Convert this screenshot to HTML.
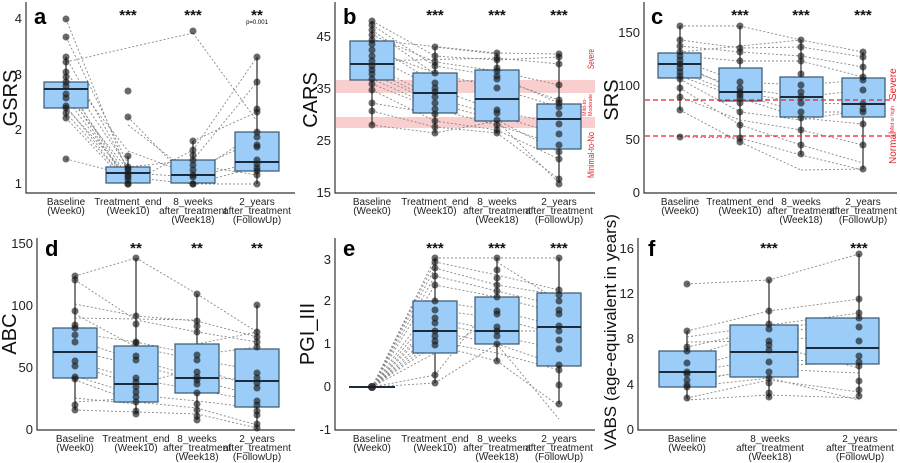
<!DOCTYPE html>
<html><head><meta charset="utf-8"><style>
html,body{margin:0;padding:0;background:#fff;}
svg{display:block;font-family:"Liberation Sans",sans-serif;}
.ax{stroke:#333;stroke-width:1.2;fill:none}
.tk{font-size:13px;fill:#222;text-anchor:end}
.xl{font-size:10px;fill:#222;text-anchor:middle}
.yl{font-size:20px;fill:#111;text-anchor:middle}
.pl{font-size:22px;font-weight:bold;fill:#000}
.st{font-size:15px;font-weight:bold;fill:#111;text-anchor:middle}
.bx{fill:#9bcdf8;stroke:#3a5670;stroke-width:1.2}
.md{stroke:#1c2c3a;stroke-width:2}
.wh{stroke:#555;stroke-width:1.5}
.ln{stroke:#888;stroke-width:0.9;stroke-dasharray:2,2;fill:none}
.d circle{fill:#1a1a1a;fill-opacity:.65}
.red{fill:#e8222b;font-size:9px}
</style></head><body>
<svg width="900" height="463" viewBox="0 0 900 463">
<!-- ===== Panel a ===== -->
<g>
<path class="ax" d="M26,2V193H295"/>
<text class="tk" x="22" y="23">4</text><text class="tk" x="22" y="79">3</text><text class="tk" x="22" y="134">2</text><text class="tk" x="22" y="188">1</text>
<text class="yl" transform="translate(17,98) rotate(-90)">GSRS</text>
<text class="pl" x="34" y="24">a</text>
<text class="st" x="128" y="20">***</text><text class="st" x="193" y="20">***</text><text class="st" x="257" y="20">**</text>
<text x="257" y="24" style="font-size:6px;text-anchor:middle">p=0.001</text>
<path class="ln" d="M66,19L128,173M66,37L128,164M66,57L128,169M66,62L193,33M66,72L128,151M66,77L128,167M66,82L128,184M66,86L128,177M66,89L128,184M66,94L128,170M66,98L128,180M66,106L128,183M66,108L128,175M66,113L128,182M66,118L128,184M66,159L128,175
M128,151L193,175M128,125L193,175M128,117L193,184M128,167L193,160M128,173L193,177M128,184L193,150M128,177L193,184
M193,33L257,121M193,150L257,57M193,160L257,82M193,175L257,132M193,184L257,167M193,177L257,162M193,141L257,112M193,184L257,184M193,170L257,140M193,165L257,175"/>
<line class="wh" x1="66" y1="57" x2="66" y2="118"/><rect class="bx" x="44" y="82" width="44" height="26"/><line class="md" x1="44" y1="89" x2="88" y2="89"/>
<line class="wh" x1="128" y1="156" x2="128" y2="184"/><rect class="bx" x="106" y="167" width="44" height="16"/><line class="md" x1="106" y1="173" x2="150" y2="173"/>
<line class="wh" x1="193" y1="141" x2="193" y2="184"/><rect class="bx" x="171" y="160" width="44" height="23"/><line class="md" x1="171" y1="175" x2="215" y2="175"/>
<line class="wh" x1="257" y1="57" x2="257" y2="184"/><rect class="bx" x="235" y="132" width="44" height="39"/><line class="md" x1="235" y1="162" x2="279" y2="162"/>
<g class="d">
<circle cx="66" cy="19" r="3.5"/><circle cx="66" cy="37" r="3.5"/><circle cx="66" cy="57" r="3.5"/><circle cx="66" cy="62" r="3.5"/><circle cx="66" cy="72" r="3.5"/><circle cx="66" cy="77" r="3.5"/><circle cx="66" cy="82" r="3.5"/><circle cx="66" cy="86" r="3.5"/><circle cx="66" cy="94" r="3.5"/><circle cx="66" cy="98" r="3.5"/><circle cx="66" cy="106" r="3.5"/><circle cx="66" cy="108" r="3.5"/><circle cx="66" cy="113" r="3.5"/><circle cx="66" cy="118" r="3.5"/><circle cx="66" cy="159" r="3.5"/>
<circle cx="128" cy="91" r="3.5"/><circle cx="128" cy="117" r="3.5"/><circle cx="128" cy="156" r="3.5"/><circle cx="128" cy="167" r="3.5"/><circle cx="128" cy="169" r="3.5"/><circle cx="128" cy="172" r="3.5"/><circle cx="128" cy="175" r="3.5"/><circle cx="128" cy="177" r="3.5"/><circle cx="128" cy="180" r="3.5"/><circle cx="128" cy="184" r="3.5"/><circle cx="128" cy="184" r="3.5"/>
<circle cx="193" cy="31" r="3.5"/><circle cx="193" cy="141" r="3.5"/><circle cx="193" cy="150" r="3.5"/><circle cx="193" cy="155" r="3.5"/><circle cx="193" cy="160" r="3.5"/><circle cx="193" cy="165" r="3.5"/><circle cx="193" cy="170" r="3.5"/><circle cx="193" cy="175" r="3.5"/><circle cx="193" cy="177" r="3.5"/><circle cx="193" cy="184" r="3.5"/><circle cx="193" cy="184" r="3.5"/>
<circle cx="257" cy="57" r="3.5"/><circle cx="257" cy="82" r="3.5"/><circle cx="257" cy="109" r="3.5"/><circle cx="257" cy="112" r="3.5"/><circle cx="257" cy="132" r="3.5"/><circle cx="257" cy="137" r="3.5"/><circle cx="257" cy="145" r="3.5"/><circle cx="257" cy="147" r="3.5"/><circle cx="257" cy="160" r="3.5"/><circle cx="257" cy="164" r="3.5"/><circle cx="257" cy="168" r="3.5"/><circle cx="257" cy="171" r="3.5"/><circle cx="257" cy="175" r="3.5"/><circle cx="257" cy="184" r="3.5"/>
</g>
<text class="xl" x="66" y="205">Baseline</text><text class="xl" x="66" y="214">(Week0)</text>
<text class="xl" x="128" y="205">Treatment_end</text><text class="xl" x="128" y="214">(Week10)</text>
<text class="xl" x="193" y="205">8_weeks</text><text class="xl" x="193" y="214">after_treatment</text><text class="xl" x="193" y="223">(Week18)</text>
<text class="xl" x="257" y="205">2_years</text><text class="xl" x="257" y="214">after_treatment</text><text class="xl" x="257" y="223">(FollowUp)</text>
</g>

<!-- ===== Panel b ===== -->
<g>
<rect x="336" y="80" width="259" height="13" fill="#f7b9bb" fill-opacity=".7"/>
<rect x="336" y="117" width="259" height="11" fill="#f7b9bb" fill-opacity=".7"/>
<path class="ax" d="M335,2V193H595"/>
<text class="tk" x="331" y="41">45</text><text class="tk" x="331" y="93">35</text><text class="tk" x="331" y="145">25</text><text class="tk" x="331" y="197">15</text>
<text class="yl" transform="translate(317,100) rotate(-90)">CARS</text>
<text class="pl" x="343" y="24">b</text>
<text class="st" x="435" y="20">***</text><text class="st" x="497" y="20">***</text><text class="st" x="559" y="20">***</text>
<path class="ln" d="M372,21L435,56M372,25L435,66M372,30L435,74M372,35L435,62M372,40L497,53M372,44L435,83M372,50L435,73M372,56L435,88M372,61L497,58M372,66L435,97M372,70L435,101M372,74L435,103M372,79L435,107M372,84L435,109M372,90L435,121M372,103L435,114M372,111L435,127M372,125L435,133
M435,47L497,54M435,56L497,60M435,62L497,71M435,66L497,76M435,73L497,88M435,83L497,79M435,88L497,111M435,97L497,116M435,103L497,120M435,109L497,125M435,121L497,130M435,127L497,133M435,133L497,121
M497,53L559,54M497,58L559,64M497,60L559,57M497,71L559,85M497,76L559,103M497,79L559,100M497,88L559,107M497,111L559,124M497,116L559,134M497,120L559,152M497,125L559,145M497,130L559,159M497,133L559,179M497,121L559,183"/>
<line class="wh" x1="372" y1="21" x2="372" y2="125"/><rect class="bx" x="350" y="41" width="44" height="39"/><line class="md" x1="350" y1="64" x2="394" y2="64"/>
<line class="wh" x1="435" y1="47" x2="435" y2="133"/><rect class="bx" x="413" y="73" width="44" height="40"/><line class="md" x1="413" y1="93" x2="457" y2="93"/>
<line class="wh" x1="497" y1="53" x2="497" y2="133"/><rect class="bx" x="475" y="70" width="44" height="51"/><line class="md" x1="475" y1="99" x2="519" y2="99"/>
<line class="wh" x1="559" y1="54" x2="559" y2="183"/><rect class="bx" x="537" y="104" width="44" height="45"/><line class="md" x1="537" y1="119" x2="581" y2="119"/>
<g class="d">
<circle cx="372" cy="21" r="3.5"/><circle cx="372" cy="25" r="3.5"/><circle cx="372" cy="30" r="3.5"/><circle cx="372" cy="35" r="3.5"/><circle cx="372" cy="40" r="3.5"/><circle cx="372" cy="44" r="3.5"/><circle cx="372" cy="50" r="3.5"/><circle cx="372" cy="56" r="3.5"/><circle cx="372" cy="61" r="3.5"/><circle cx="372" cy="66" r="3.5"/><circle cx="372" cy="70" r="3.5"/><circle cx="372" cy="74" r="3.5"/><circle cx="372" cy="79" r="3.5"/><circle cx="372" cy="84" r="3.5"/><circle cx="372" cy="90" r="3.5"/><circle cx="372" cy="103" r="3.5"/><circle cx="372" cy="111" r="3.5"/><circle cx="372" cy="125" r="3.5"/>
<circle cx="435" cy="47" r="3.5"/><circle cx="435" cy="56" r="3.5"/><circle cx="435" cy="62" r="3.5"/><circle cx="435" cy="66" r="3.5"/><circle cx="435" cy="73" r="3.5"/><circle cx="435" cy="83" r="3.5"/><circle cx="435" cy="88" r="3.5"/><circle cx="435" cy="92" r="3.5"/><circle cx="435" cy="97" r="3.5"/><circle cx="435" cy="103" r="3.5"/><circle cx="435" cy="109" r="3.5"/><circle cx="435" cy="114" r="3.5"/><circle cx="435" cy="121" r="3.5"/><circle cx="435" cy="127" r="3.5"/><circle cx="435" cy="133" r="3.5"/>
<circle cx="497" cy="53" r="3.5"/><circle cx="497" cy="58" r="3.5"/><circle cx="497" cy="60" r="3.5"/><circle cx="497" cy="68" r="3.5"/><circle cx="497" cy="71" r="3.5"/><circle cx="497" cy="76" r="3.5"/><circle cx="497" cy="79" r="3.5"/><circle cx="497" cy="88" r="3.5"/><circle cx="497" cy="110" r="3.5"/><circle cx="497" cy="113" r="3.5"/><circle cx="497" cy="120" r="3.5"/><circle cx="497" cy="125" r="3.5"/><circle cx="497" cy="130" r="3.5"/><circle cx="497" cy="133" r="3.5"/>
<circle cx="559" cy="54" r="3.5"/><circle cx="559" cy="57" r="3.5"/><circle cx="559" cy="64" r="3.5"/><circle cx="559" cy="85" r="3.5"/><circle cx="559" cy="100" r="3.5"/><circle cx="559" cy="103" r="3.5"/><circle cx="559" cy="107" r="3.5"/><circle cx="559" cy="114" r="3.5"/><circle cx="559" cy="124" r="3.5"/><circle cx="559" cy="134" r="3.5"/><circle cx="559" cy="145" r="3.5"/><circle cx="559" cy="152" r="3.5"/><circle cx="559" cy="159" r="3.5"/><circle cx="559" cy="179" r="3.5"/><circle cx="559" cy="184" r="3.5"/>
</g>
<text class="red" style="font-size:9px" transform="translate(594,69) rotate(-90)" textLength="20" lengthAdjust="spacingAndGlyphs">Severe</text>
<text class="red" style="font-size:5.5px" transform="translate(586,116) rotate(-90)" textLength="18" lengthAdjust="spacingAndGlyphs">Mild-to-</text>
<text class="red" style="font-size:5.5px" transform="translate(592,116) rotate(-90)" textLength="22" lengthAdjust="spacingAndGlyphs">Moderate</text>
<text class="red" style="font-size:9px" transform="translate(594,178) rotate(-90)" textLength="46" lengthAdjust="spacingAndGlyphs">Minimal-to-No</text>
<text class="xl" x="372" y="205">Baseline</text><text class="xl" x="372" y="214">(Week0)</text>
<text class="xl" x="435" y="205">Treatment_end</text><text class="xl" x="435" y="214">(Week10)</text>
<text class="xl" x="497" y="205">8_weeks</text><text class="xl" x="497" y="214">after_treatment</text><text class="xl" x="497" y="223">(Week18)</text>
<text class="xl" x="559" y="205">2_years</text><text class="xl" x="559" y="214">after_treatment</text><text class="xl" x="559" y="223">(FollowUp)</text>
</g>

<!-- ===== Panel c ===== -->
<g>
<path class="ax" d="M644,2V193H897"/>
<text class="tk" x="640" y="37">150</text><text class="tk" x="640" y="90">100</text><text class="tk" x="640" y="144">50</text><text class="tk" x="640" y="197">0</text>
<text class="yl" transform="translate(618,100) rotate(-90)">SRS</text>
<text class="pl" x="651" y="24">c</text>
<text class="st" x="740" y="20">***</text><text class="st" x="801" y="20">***</text><text class="st" x="863" y="20">***</text>
<path class="ln" d="M680,26L740,26M680,40L740,48M680,46L740,52M680,52L801,40M680,56L740,61M680,60L740,82M680,64L740,92M680,68L740,88M680,72L740,95M680,76L740,98M680,79L740,112M680,88L740,125M680,97L740,120M680,110L740,142M680,137L740,138
M740,26L801,40M740,48L801,47M740,52L801,56M740,61L801,61M740,82L801,85M740,88L801,97M740,92L801,103M740,95L801,112M740,98L801,118M740,112L801,120M740,120L801,130M740,125L801,145M740,138L801,155M740,142L801,170
M801,40L863,52M801,47L863,57M801,56L863,67M801,61L863,77M801,85L863,80M801,97L863,90M801,103L863,104M801,112L863,112M801,118L863,124M801,120L863,110M801,130L863,145M801,145L863,163M801,155L863,170M801,170L863,169"/>
<line class="wh" x1="680" y1="26" x2="680" y2="110"/><rect class="bx" x="658" y="53" width="43" height="25"/><line class="md" x1="658" y1="64" x2="701" y2="64"/>
<line class="wh" x1="740" y1="26" x2="740" y2="142"/><rect class="bx" x="719" y="68" width="43" height="33"/><line class="md" x1="719" y1="92" x2="762" y2="92"/>
<line class="wh" x1="801" y1="40" x2="801" y2="155"/><rect class="bx" x="780" y="77" width="43" height="40"/><line class="md" x1="780" y1="97" x2="823" y2="97"/>
<line class="wh" x1="863" y1="52" x2="863" y2="169"/><rect class="bx" x="842" y="78" width="43" height="39"/><line class="md" x1="842" y1="104" x2="885" y2="104"/>
<line x1="645" y1="100" x2="895" y2="100" stroke="#e8222b" stroke-width="1.3" stroke-dasharray="5,3"/>
<line x1="645" y1="136" x2="895" y2="136" stroke="#e8222b" stroke-width="1.3" stroke-dasharray="5,3"/>
<g class="d">
<circle cx="680" cy="26" r="3.5"/><circle cx="680" cy="40" r="3.5"/><circle cx="680" cy="46" r="3.5"/><circle cx="680" cy="52" r="3.5"/><circle cx="680" cy="56" r="3.5"/><circle cx="680" cy="60" r="3.5"/><circle cx="680" cy="64" r="3.5"/><circle cx="680" cy="68" r="3.5"/><circle cx="680" cy="72" r="3.5"/><circle cx="680" cy="76" r="3.5"/><circle cx="680" cy="79" r="3.5"/><circle cx="680" cy="88" r="3.5"/><circle cx="680" cy="97" r="3.5"/><circle cx="680" cy="110" r="3.5"/><circle cx="680" cy="137" r="3.5"/>
<circle cx="740" cy="26" r="3.5"/><circle cx="740" cy="48" r="3.5"/><circle cx="740" cy="52" r="3.5"/><circle cx="740" cy="61" r="3.5"/><circle cx="740" cy="82" r="3.5"/><circle cx="740" cy="88" r="3.5"/><circle cx="740" cy="92" r="3.5"/><circle cx="740" cy="95" r="3.5"/><circle cx="740" cy="98" r="3.5"/><circle cx="740" cy="103" r="3.5"/><circle cx="740" cy="112" r="3.5"/><circle cx="740" cy="125" r="3.5"/><circle cx="740" cy="138" r="3.5"/><circle cx="740" cy="142" r="3.5"/>
<circle cx="801" cy="40" r="3.5"/><circle cx="801" cy="47" r="3.5"/><circle cx="801" cy="56" r="3.5"/><circle cx="801" cy="61" r="3.5"/><circle cx="801" cy="74" r="3.5"/><circle cx="801" cy="85" r="3.5"/><circle cx="801" cy="92" r="3.5"/><circle cx="801" cy="97" r="3.5"/><circle cx="801" cy="103" r="3.5"/><circle cx="801" cy="112" r="3.5"/><circle cx="801" cy="118" r="3.5"/><circle cx="801" cy="130" r="3.5"/><circle cx="801" cy="145" r="3.5"/><circle cx="801" cy="154" r="3.5"/>
<circle cx="863" cy="52" r="3.5"/><circle cx="863" cy="57" r="3.5"/><circle cx="863" cy="67" r="3.5"/><circle cx="863" cy="77" r="3.5"/><circle cx="863" cy="80" r="3.5"/><circle cx="863" cy="90" r="3.5"/><circle cx="863" cy="104" r="3.5"/><circle cx="863" cy="109" r="3.5"/><circle cx="863" cy="112" r="3.5"/><circle cx="863" cy="124" r="3.5"/><circle cx="863" cy="145" r="3.5"/><circle cx="863" cy="169" r="3.5"/>
</g>
<text class="red" style="font-size:10px" transform="translate(896,164) rotate(-90)">Normal</text>
<text class="red" style="font-size:5px" transform="translate(894,132) rotate(-90)">Mild or high</text>
<text class="red" style="font-size:10px" transform="translate(896,100) rotate(-90)">Severe</text>
<text class="xl" x="680" y="205">Baseline</text><text class="xl" x="680" y="214">(Week0)</text>
<text class="xl" x="740" y="205">Treatment_end</text><text class="xl" x="740" y="214">(Week10)</text>
<text class="xl" x="801" y="205">8_weeks</text><text class="xl" x="801" y="214">after_treatment</text><text class="xl" x="801" y="223">(Week18)</text>
<text class="xl" x="863" y="205">2_years</text><text class="xl" x="863" y="214">after_treatment</text><text class="xl" x="863" y="223">(FollowUp)</text>
</g>

<!-- ===== Panel d ===== -->
<g>
<path class="ax" d="M37,238V430H295"/>
<text class="tk" x="33" y="248">150</text><text class="tk" x="33" y="310">100</text><text class="tk" x="33" y="372">50</text><text class="tk" x="33" y="434">0</text>
<text class="yl" transform="translate(16,334) rotate(-90)">ABC</text>
<text class="pl" x="45" y="256">d</text>
<text class="st" x="136" y="253">**</text><text class="st" x="197" y="253">**</text><text class="st" x="257" y="253">**</text>
<path class="ln" d="M75,276L136,258M75,280L136,320M75,304L136,316M75,314L136,347M75,318L197,320M75,333L136,342M75,340L136,360M75,351L136,365M75,362L136,379M75,365L136,385M75,376L136,395M75,380L136,402M75,398L136,404M75,410L136,412M75,402L136,398
M136,258L197,294M136,316L197,321M136,320L197,332M136,342L197,355M136,347L197,360M136,360L197,377M136,365L197,380M136,379L197,390M136,385L197,368M136,395L197,401M136,402L197,408M136,412L197,414
M197,294L257,332M197,321L257,337M197,332L257,342M197,355L257,347M197,360L257,370M197,368L257,388M197,377L257,380M197,380L257,396M197,390L257,401M197,401L257,408M197,408L257,425M197,414L257,428M197,344L257,332"/>
<line class="wh" x1="75" y1="276" x2="75" y2="410"/><rect class="bx" x="53" y="328" width="44" height="50"/><line class="md" x1="53" y1="352" x2="97" y2="352"/>
<line class="wh" x1="136" y1="258" x2="136" y2="413"/><rect class="bx" x="114" y="346" width="44" height="56"/><line class="md" x1="114" y1="384" x2="158" y2="384"/>
<line class="wh" x1="197" y1="294" x2="197" y2="420"/><rect class="bx" x="175" y="344" width="44" height="49"/><line class="md" x1="175" y1="378" x2="219" y2="378"/>
<line class="wh" x1="257" y1="305" x2="257" y2="429"/><rect class="bx" x="235" y="349" width="44" height="58"/><line class="md" x1="235" y1="381" x2="279" y2="381"/>
<g class="d">
<circle cx="75" cy="276" r="3.5"/><circle cx="75" cy="280" r="3.5"/><circle cx="75" cy="311" r="3.5"/><circle cx="75" cy="325" r="3.5"/><circle cx="75" cy="328" r="3.5"/><circle cx="75" cy="335" r="3.5"/><circle cx="75" cy="342" r="3.5"/><circle cx="75" cy="361" r="3.5"/><circle cx="75" cy="366" r="3.5"/><circle cx="75" cy="377" r="3.5"/><circle cx="75" cy="379" r="3.5"/><circle cx="75" cy="405" r="3.5"/><circle cx="75" cy="410" r="3.5"/>
<circle cx="136" cy="258" r="3.5"/><circle cx="136" cy="316" r="3.5"/><circle cx="136" cy="324" r="3.5"/><circle cx="136" cy="342" r="3.5"/><circle cx="136" cy="343" r="3.5"/><circle cx="136" cy="356" r="3.5"/><circle cx="136" cy="360" r="3.5"/><circle cx="136" cy="378" r="3.5"/><circle cx="136" cy="382" r="3.5"/><circle cx="136" cy="387" r="3.5"/><circle cx="136" cy="392" r="3.5"/><circle cx="136" cy="397" r="3.5"/><circle cx="136" cy="402" r="3.5"/><circle cx="136" cy="411" r="3.5"/><circle cx="136" cy="414" r="3.5"/>
<circle cx="197" cy="294" r="3.5"/><circle cx="197" cy="321" r="3.5"/><circle cx="197" cy="326" r="3.5"/><circle cx="197" cy="332" r="3.5"/><circle cx="197" cy="355" r="3.5"/><circle cx="197" cy="360" r="3.5"/><circle cx="197" cy="372" r="3.5"/><circle cx="197" cy="377" r="3.5"/><circle cx="197" cy="380" r="3.5"/><circle cx="197" cy="384" r="3.5"/><circle cx="197" cy="393" r="3.5"/><circle cx="197" cy="404" r="3.5"/><circle cx="197" cy="410" r="3.5"/><circle cx="197" cy="416" r="3.5"/><circle cx="197" cy="420" r="3.5"/>
<circle cx="257" cy="305" r="3.5"/><circle cx="257" cy="332" r="3.5"/><circle cx="257" cy="337" r="3.5"/><circle cx="257" cy="342" r="3.5"/><circle cx="257" cy="347" r="3.5"/><circle cx="257" cy="373" r="3.5"/><circle cx="257" cy="378" r="3.5"/><circle cx="257" cy="383" r="3.5"/><circle cx="257" cy="388" r="3.5"/><circle cx="257" cy="401" r="3.5"/><circle cx="257" cy="405" r="3.5"/><circle cx="257" cy="411" r="3.5"/><circle cx="257" cy="415" r="3.5"/><circle cx="257" cy="424" r="3.5"/><circle cx="257" cy="428" r="3.5"/>
</g>
<text class="xl" x="75" y="442">Baseline</text><text class="xl" x="75" y="451">(Week0)</text>
<text class="xl" x="136" y="442">Treatment_end</text><text class="xl" x="136" y="451">(Week10)</text>
<text class="xl" x="197" y="442">8_weeks</text><text class="xl" x="197" y="451">after_treatment</text><text class="xl" x="197" y="460">(Week18)</text>
<text class="xl" x="257" y="442">2_years</text><text class="xl" x="257" y="451">after_treatment</text><text class="xl" x="257" y="460">(FollowUp)</text>
</g>

<!-- ===== Panel e ===== -->
<g>
<path class="ax" d="M335,238V430H595"/>
<text class="tk" x="331" y="264">3</text><text class="tk" x="331" y="305">2</text><text class="tk" x="331" y="348">1</text><text class="tk" x="331" y="391">0</text><text class="tk" x="331" y="434">-1</text>
<text class="yl" transform="translate(314,334) rotate(-90)">PGI_III</text>
<text class="pl" x="343" y="256">e</text>
<text class="st" x="435" y="253">***</text><text class="st" x="497" y="253">***</text><text class="st" x="559" y="253">***</text>
<path class="ln" d="M372,387L435,258M372,387L435,262M372,387L435,268M372,387L435,276M372,387L435,285M372,387L435,301M372,387L435,310M372,387L435,318M372,387L435,323M372,387L435,331M372,387L435,336M372,387L435,341M372,387L435,345M372,387L435,353M372,387L435,375M372,387L435,383
M435,258L497,258M435,262L497,275M435,268L497,285M435,276L497,291M435,285L497,297M435,301L497,311M435,310L497,318M435,318L497,331M435,323L497,336M435,331L497,344M435,341L497,353M435,345L497,361M435,353L497,318M435,375L497,297M435,383L497,344
M497,258L559,258M497,275L559,290M497,285L559,295M497,291L559,306M497,297L559,313M497,311L559,326M497,318L559,335M497,331L559,331M497,336L559,349M497,344L559,365M497,353L559,370M497,361L559,406M497,262L559,301M497,344L559,419"/>
<line x1="349" y1="387" x2="395" y2="387" stroke="#1c2c3a" stroke-width="2"/>
<line class="wh" x1="435" y1="258" x2="435" y2="383"/><rect class="bx" x="413" y="301" width="44" height="52"/><line class="md" x1="413" y1="331" x2="457" y2="331"/>
<line class="wh" x1="497" y1="258" x2="497" y2="361"/><rect class="bx" x="475" y="297" width="44" height="47"/><line class="md" x1="475" y1="331" x2="519" y2="331"/>
<line class="wh" x1="559" y1="258" x2="559" y2="404"/><rect class="bx" x="537" y="293" width="44" height="73"/><line class="md" x1="537" y1="327" x2="581" y2="327"/>
<g class="d">
<circle cx="372" cy="387" r="4"/><circle cx="372" cy="387" r="4"/>
<circle cx="435" cy="258" r="3.5"/><circle cx="435" cy="262" r="3.5"/><circle cx="435" cy="268" r="3.5"/><circle cx="435" cy="276" r="3.5"/><circle cx="435" cy="285" r="3.5"/><circle cx="435" cy="301" r="3.5"/><circle cx="435" cy="310" r="3.5"/><circle cx="435" cy="318" r="3.5"/><circle cx="435" cy="323" r="3.5"/><circle cx="435" cy="331" r="3.5"/><circle cx="435" cy="336" r="3.5"/><circle cx="435" cy="341" r="3.5"/><circle cx="435" cy="345" r="3.5"/><circle cx="435" cy="375" r="3.5"/><circle cx="435" cy="383" r="3.5"/>
<circle cx="497" cy="258" r="3.5"/><circle cx="497" cy="270" r="3.5"/><circle cx="497" cy="278" r="3.5"/><circle cx="497" cy="285" r="3.5"/><circle cx="497" cy="291" r="3.5"/><circle cx="497" cy="297" r="3.5"/><circle cx="497" cy="311" r="3.5"/><circle cx="497" cy="314" r="3.5"/><circle cx="497" cy="327" r="3.5"/><circle cx="497" cy="331" r="3.5"/><circle cx="497" cy="336" r="3.5"/><circle cx="497" cy="344" r="3.5"/><circle cx="497" cy="361" r="3.5"/>
<circle cx="559" cy="258" r="3.5"/><circle cx="559" cy="290" r="3.5"/><circle cx="559" cy="295" r="3.5"/><circle cx="559" cy="301" r="3.5"/><circle cx="559" cy="310" r="3.5"/><circle cx="559" cy="314" r="3.5"/><circle cx="559" cy="326" r="3.5"/><circle cx="559" cy="331" r="3.5"/><circle cx="559" cy="340" r="3.5"/><circle cx="559" cy="349" r="3.5"/><circle cx="559" cy="365" r="3.5"/><circle cx="559" cy="370" r="3.5"/><circle cx="559" cy="385" r="3.5"/><circle cx="559" cy="404" r="3.5"/>
</g>
<text class="xl" x="372" y="442">Baseline</text><text class="xl" x="372" y="451">(Week0)</text>
<text class="xl" x="435" y="442">Treatment_end</text><text class="xl" x="435" y="451">(Week10)</text>
<text class="xl" x="497" y="442">8_weeks</text><text class="xl" x="497" y="451">after_treatment</text><text class="xl" x="497" y="460">(Week18)</text>
<text class="xl" x="559" y="442">2_years</text><text class="xl" x="559" y="451">after_treatment</text><text class="xl" x="559" y="460">(FollowUp)</text>
</g>

<!-- ===== Panel f ===== -->
<g>
<path class="ax" d="M638,238V430H897"/>
<text class="tk" x="634" y="253">16</text><text class="tk" x="634" y="298">12</text><text class="tk" x="634" y="343">8</text><text class="tk" x="634" y="389">4</text><text class="tk" x="634" y="434">0</text>
<text class="yl" style="font-size:17px" transform="translate(616,332) rotate(-90)">VABS (age-equivalent in years)</text>
<text class="pl" x="648" y="256">f</text>
<text class="st" x="769" y="253">***</text><text class="st" x="859" y="253">***</text>
<path class="ln" d="M687,284L769,280M687,331L769,311M687,337L769,325M687,342L769,341M687,347L769,329M687,357L769,332M687,369L769,345M687,372L769,359M687,380L769,369M687,383L769,366M687,387L769,378M687,398L769,380M687,400L769,395
M769,280L859,254M769,311L859,299M769,325L859,313M769,329L859,318M769,332L859,325M769,341L859,334M769,345L859,368M769,359L859,363M769,366L859,362M769,369L859,373M769,378L859,400M769,380L859,392M769,395L859,398"/>
<line class="wh" x1="687" y1="331" x2="687" y2="399"/><rect class="bx" x="659" y="351" width="57" height="36"/><line class="md" x1="659" y1="372" x2="716" y2="372"/>
<line class="wh" x1="769" y1="280" x2="769" y2="398"/><rect class="bx" x="730" y="325" width="68" height="52"/><line class="md" x1="730" y1="352" x2="798" y2="352"/>
<line class="wh" x1="859" y1="254" x2="859" y2="396"/><rect class="bx" x="806" y="318" width="73" height="46"/><line class="md" x1="806" y1="348" x2="879" y2="348"/>
<g class="d">
<circle cx="687" cy="284" r="3.5"/><circle cx="687" cy="331" r="3.5"/><circle cx="687" cy="347" r="3.5"/><circle cx="687" cy="351" r="3.5"/><circle cx="687" cy="363" r="3.5"/><circle cx="687" cy="372" r="3.5"/><circle cx="687" cy="374" r="3.5"/><circle cx="687" cy="380" r="3.5"/><circle cx="687" cy="385" r="3.5"/><circle cx="687" cy="387" r="3.5"/><circle cx="687" cy="398" r="3.5"/>
<circle cx="769" cy="280" r="3.5"/><circle cx="769" cy="311" r="3.5"/><circle cx="769" cy="324" r="3.5"/><circle cx="769" cy="329" r="3.5"/><circle cx="769" cy="341" r="3.5"/><circle cx="769" cy="345" r="3.5"/><circle cx="769" cy="350" r="3.5"/><circle cx="769" cy="362" r="3.5"/><circle cx="769" cy="372" r="3.5"/><circle cx="769" cy="378" r="3.5"/><circle cx="769" cy="383" r="3.5"/><circle cx="769" cy="393" r="3.5"/><circle cx="769" cy="397" r="3.5"/>
<circle cx="859" cy="254" r="3.5"/><circle cx="859" cy="299" r="3.5"/><circle cx="859" cy="313" r="3.5"/><circle cx="859" cy="318" r="3.5"/><circle cx="859" cy="327" r="3.5"/><circle cx="859" cy="341" r="3.5"/><circle cx="859" cy="356" r="3.5"/><circle cx="859" cy="362" r="3.5"/><circle cx="859" cy="366" r="3.5"/><circle cx="859" cy="381" r="3.5"/><circle cx="859" cy="390" r="3.5"/><circle cx="859" cy="396" r="3.5"/>
</g>
<text class="xl" x="687" y="442">Baseline</text><text class="xl" x="687" y="451">(Week0)</text>
<text class="xl" x="770" y="442">8_weeks</text><text class="xl" x="770" y="451">after_treatment</text><text class="xl" x="770" y="460">(Week18)</text>
<text class="xl" x="860" y="442">2_years</text><text class="xl" x="860" y="451">after_treatment</text><text class="xl" x="860" y="460">(FollowUp)</text>
</g>
</svg>
</body></html>
